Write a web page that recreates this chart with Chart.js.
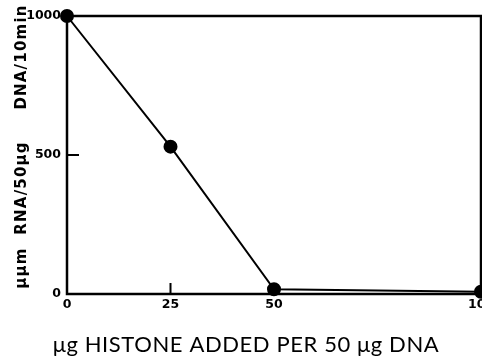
<!DOCTYPE html>
<html>
<head>
<meta charset="utf-8">
<script src="https://cdn.jsdelivr.net/npm/chart.js@4.4.1/dist/chart.umd.min.js"></script>
<style>
  html, body { margin: 0; padding: 0; background: #fff; }
  #wrap { width: 482px; height: 357px; position: relative; }
</style>
</head>
<body>
<div id="wrap"><canvas id="histoneChart" width="482" height="357"></canvas></div>
<script>
// Histone inhibition of RNA synthesis
const histoneDoses = [0, 25, 50, 100];
const rnaRates = [1000, 530, 17, 8];
const xTickValues = [0, 25, 50, 100];
const yTickValues = [0, 500, 1000];
const xTitle = 'μg HISTONE ADDED PER 50 μg DNA';
const yTitleLower = 'μμm  RNA/50μg';
const yTitleUpper = 'DNA/10min';

const tickFont = { family: 'DejaVu Sans', size: 12.5, weight: 'bold' };

// frame, inward ticks and axis titles
const framePlugin = {
    id: 'frame',
    afterDraw(chart) {
        const { ctx, chartArea: a, scales } = chart;
        ctx.save();
        ctx.strokeStyle = '#000';
        ctx.lineWidth = 2.5;
        ctx.strokeRect(a.left, a.top, a.right - a.left, a.bottom - a.top);

        // small inward tick marks at interior tick values
        ctx.lineWidth = 2;
        ctx.beginPath();
        const y500 = scales.y.getPixelForValue(500);
        ctx.moveTo(a.left, y500);
        ctx.lineTo(a.left + 12, y500);
        const x25 = scales.x.getPixelForValue(25);
        ctx.moveTo(x25, a.bottom);
        ctx.lineTo(x25, a.bottom - 11);
        ctx.stroke();

        ctx.fillStyle = '#000';
        ctx.textAlign = 'center';
        ctx.textBaseline = 'middle';
        ctx.font = '22px Lato';
        ctx.letterSpacing = '0.6px';
        ctx.fillText(xTitle, 246, 345);

        ctx.font = 'bold 15px "DejaVu Sans"';
        ctx.letterSpacing = '1.2px';
        ctx.translate(22, 0);
        ctx.rotate(-Math.PI / 2);
        ctx.fillText(yTitleLower, -215, 0);
        ctx.fillText(yTitleUpper, -57, 0);
        ctx.restore();
    }
};

new Chart(document.getElementById('histoneChart'), {
    type: 'scatter',
    data: {
        datasets: [{
            data: histoneDoses.map((d, i) => ({ x: d, y: rnaRates[i] })),
            showLine: true,
            borderColor: '#000',
            backgroundColor: '#000',
            borderWidth: 2,
            pointRadius: 6,
            pointHoverRadius: 6,
            clip: false
        }]
    },
    options: {
        responsive: false,
        animation: false,
        devicePixelRatio: 1,
        layout: { autoPadding: false, padding: { top: 16, right: 1, left: 0, bottom: 0 } },
        plugins: {
            legend: { display: false },
            tooltip: { enabled: false }
        },
        scales: {
            x: {
                type: 'linear',
                min: 0,
                max: 100,
                afterBuildTicks: s => { s.ticks = xTickValues.map(v => ({ value: v })); },
                afterFit: s => { s.height = 63; s.paddingLeft = 0; s.paddingRight = 0; },
                grid: { display: false, drawTicks: false },
                border: { display: false },
                ticks: { color: '#000', font: tickFont, padding: 3, maxRotation: 0, autoSkip: false,
                         callback: v => String(v) }
            },
            y: {
                min: 0,
                max: 1000,
                afterBuildTicks: s => { s.ticks = yTickValues.map(v => ({ value: v })); },
                afterFit: s => { s.width = 67; s.paddingTop = 0; s.paddingBottom = 0; },
                grid: { display: false, drawTicks: false },
                border: { display: false },
                ticks: { color: '#000', font: tickFont, padding: 6,
                         callback: v => String(v) }
            }
        }
    },
    plugins: [framePlugin]
});
</script>
</body>
</html>
